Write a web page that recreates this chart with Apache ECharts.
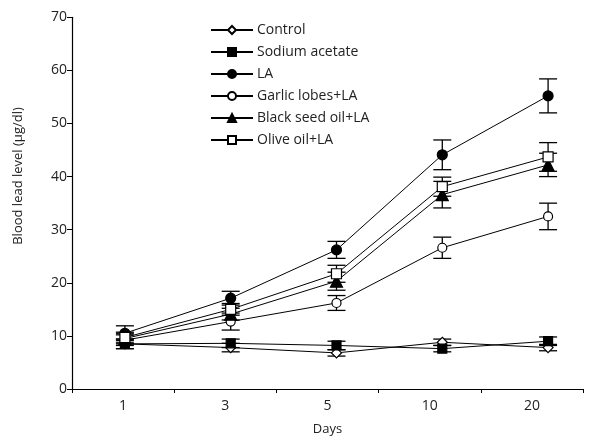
<!DOCTYPE html>
<html><head><meta charset="utf-8">
<script src="https://cdn.jsdelivr.net/npm/echarts@6/dist/echarts.min.js"></script>
<style>html,body{margin:0;padding:0;background:#fff}#c{width:602px;height:441px}</style>
</head><body><div id="c"></div>
<script>
const days = ['1', '3', '5', '10', '20'];
const seriesNames = ['Control', 'Sodium acetate', 'LA', 'Garlic lobes+LA', 'Black seed oil+LA', 'Olive oil+LA'];
const control = [8.5, 7.8, 6.8, 8.8, 7.8];
const sodium = [8.5, 8.6, 8.2, 7.6, 9.0];
const la = [10.5, 17.1, 26.2, 44.1, 55.2];
const garlic = [9.2, 12.7, 16.2, 26.6, 32.5];
const blackSeed = [9.5, 14.1, 20.3, 36.6, 42.2];
const olive = [9.7, 15.0, 21.7, 38.1, 43.7];
const controlErr = [0.9, 0.8, 0.6, 0.6, 0.6];
const sodiumErr = [0.9, 0.8, 0.8, 0.6, 0.8];
const laErr = [1.4, 1.3, 1.6, 2.8, 3.2];
const garlicErr = [1.0, 1.6, 1.4, 2.0, 2.5];
const blackSeedErr = [1.0, 1.1, 1.7, 2.5, 2.2];
const oliveErr = [1.0, 1.1, 1.6, 1.8, 2.7];
const yTicks = [0, 10, 20, 30, 40, 50, 60, 70];

const values = [control, sodium, la, garlic, blackSeed, olive];
const errors = [controlErr, sodiumErr, laErr, garlicErr, blackSeedErr, oliveErr];
const symbols = ['diamond', 'rect', 'circle', 'circle', 'triangle', 'rect'];
const fills = ['#fff', '#000', '#000', '#fff', '#000', '#fff'];
const sizes = [10, 9, 10, 9, 12, 10];
const font = 'Open Sans';

const chart = echarts.init(document.getElementById('c'));
const series = [];
values.forEach((vals, s) => {
  series.push({
    type: 'custom', xAxisIndex: 1, yAxisIndex: 0, z: 1, silent: true,
    data: vals.map((v, i) => [i, v, errors[s][i]]),
    renderItem: function (params, api) {
      const x = api.value(0), y = api.value(1), e = api.value(2);
      const t = api.coord([x, y + e]), b = api.coord([x, y - e]);
      const hw = 9;
      const st = { stroke: '#000', lineWidth: 1.3 };
      return { type: 'group', children: [
        { type: 'line', shape: { x1: t[0], y1: t[1], x2: b[0], y2: b[1] }, style: st },
        { type: 'line', shape: { x1: t[0] - hw, y1: t[1], x2: t[0] + hw, y2: t[1] }, style: st },
        { type: 'line', shape: { x1: b[0] - hw, y1: b[1], x2: b[0] + hw, y2: b[1] }, style: st }
      ]};
    }
  });
});
values.forEach((vals, s) => {
  series.push({
    name: seriesNames[s], type: 'line', xAxisIndex: 1, yAxisIndex: 0, z: 3,
    data: vals.map((v, i) => [i, v]),
    symbol: symbols[s], symbolSize: sizes[s], showAllSymbol: true,
    lineStyle: { color: '#000', width: 1 },
    itemStyle: { color: fills[s], borderColor: '#000', borderWidth: 1.2 },
    emphasis: { disabled: true }
  });
});

chart.setOption({
  animation: false,
  backgroundColor: '#fff',
  grid: { left: 72, right: 19, top: 17.3, bottom: 51, containLabel: false },
  legend: {
    orient: 'vertical', left: 205, top: 18, itemWidth: 42, itemHeight: 10, itemGap: 8,
    data: seriesNames,
    textStyle: { fontFamily: font, fontSize: 14, color: '#222', padding: [0, 0, 0, -1] }
  },
  xAxis: [{
    type: 'category', data: days, boundaryGap: true,
    name: 'Days', nameLocation: 'middle', nameGap: 34,
    nameTextStyle: { fontFamily: font, fontSize: 13, color: '#222' },
    axisLine: { onZero: false, lineStyle: { color: '#000', width: 1.2 } },
    axisTick: { show: true, length: 4, alignWithLabel: false, lineStyle: { color: '#000' } },
    axisLabel: { fontFamily: font, fontSize: 14, color: '#222', margin: 10 },
    splitLine: { show: false }
  }, {
    type: 'value', min: -0.5, max: 4.33, show: false, position: 'bottom'
  }],
  yAxis: [{
    type: 'value', min: 0, max: 70, interval: 10,
    axisLine: { show: true, onZero: false, lineStyle: { color: '#000', width: 1.2 } },
    axisTick: { show: true, length: 5, lineStyle: { color: '#000' } },
    axisLabel: { fontFamily: font, fontSize: 14, color: '#222', margin: 5,
      formatter: v => yTicks.includes(v) ? String(v) : '' },
    splitLine: { show: false }
  }],
  graphic: [{
    type: 'text', x: 12, y: 176, rotation: Math.PI / 2,
    style: { text: 'Blood lead level (μg/dl)', font: '13px "Open Sans"', fill: '#222',
      textAlign: 'center', textVerticalAlign: 'top' }
  }],
  series: series
});
</script></body></html>
